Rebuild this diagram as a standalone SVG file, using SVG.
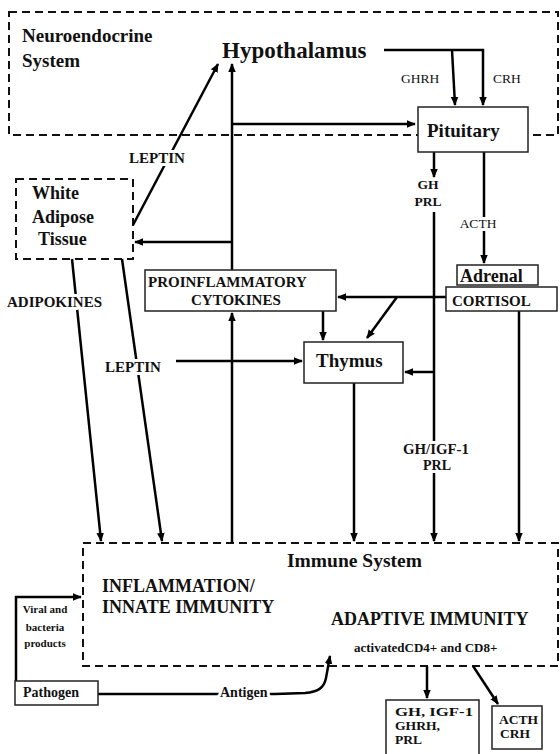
<svg xmlns="http://www.w3.org/2000/svg" width="560" height="754" viewBox="0 0 560 754">
<style>
text{font-family:"Liberation Serif","Times New Roman",serif;fill:#111;font-weight:bold}
.reg{font-weight:normal}
.dash{fill:none;stroke:#111;stroke-width:2;stroke-dasharray:8 5}
.box{fill:#fff;stroke:#222;stroke-width:1.5}
.c{fill:none;stroke:#000;stroke-width:2.5}
.a{marker-end:url(#ah)}
.halo{stroke:#fff;stroke-width:6;paint-order:stroke;stroke-linejoin:round}
.m{text-anchor:middle}
</style>
<defs>
<marker id="ah" viewBox="0 0 10 10" refX="9" refY="5" markerWidth="9" markerHeight="9" markerUnits="userSpaceOnUse" orient="auto">
<path d="M0,0.8 L10,5 L0,9.2 z" fill="#000"/>
</marker>
</defs>

<g id="neuroendocrine-system">
<rect class="dash" x="9" y="12" width="549" height="123"/>
<text x="22" y="42" font-size="19">Neuroendocrine</text>
<text x="22" y="67" font-size="19">System</text>
</g>

<g id="immune-system">
<rect class="dash" x="83" y="543" width="475" height="123"/>
<text x="287" y="567" font-size="19.5">Immune System</text>
<text x="102" y="592" font-size="18">INFLAMMATION/</text>
<text x="102" y="613" font-size="18">INNATE IMMUNITY</text>
<text x="331" y="625" font-size="18">ADAPTIVE IMMUNITY</text>
<text x="354" y="652" font-size="13">activatedCD4+ and CD8+</text>
</g>

<g id="white-adipose-tissue">
<rect class="dash" x="16" y="179" width="117" height="80"/>
<text x="32" y="199" font-size="18">White</text>
<text x="32" y="223" font-size="18">Adipose</text>
<text x="38" y="245" font-size="18">Tissue</text>
</g>

<g id="connectors">
<path class="c" d="M384,50 H483 V105" marker-end="url(#ah)"/>
<path class="c a" d="M452,50 L455,105"/>
<path class="c a" d="M232,124 H415"/>
<path class="c a" d="M232,270 V64"/>
<path class="c a" d="M232,242 H135"/>
<path class="c a" d="M133,225 L218,64"/>
<path class="c a" d="M72,259 L101,541"/>
<path class="c a" d="M122,259 L162,541"/>
<path class="c a" d="M232,543 V313"/>
<path class="c a" d="M176,361 H302"/>
<path class="c a" d="M323,311 V340"/>
<path class="c a" d="M446,297 H338"/>
<path class="c a" d="M397,297 L367,338"/>
<path class="c a" d="M434,152 V177"/>
<path class="c a" d="M434,212 V541"/>
<path class="c a" d="M434,372 H405"/>
<path class="c a" d="M484,152 V263"/>
<path class="c a" d="M519,311 V541"/>
<path class="c a" d="M354,383 V541"/>
<path class="c a" d="M16,681 V597 H81"/>
<path class="c" d="M98,694 H275 L305,693 C318,692 324,688 326,678 L330,656" marker-end="url(#ah)"/>
<path class="c a" d="M427,666 V698"/>
<path class="c a" d="M473,666 L498,704"/>

<text class="reg" x="401" y="83" font-size="13.5">GHRH</text>
<text class="reg" x="493" y="83" font-size="13.5">CRH</text>
<text class="halo m" x="157" y="163" font-size="15">LEPTIN</text>
<text class="halo" x="7" y="307" font-size="15">ADIPOKINES</text>
<text class="halo m" x="133" y="372" font-size="15">LEPTIN</text>
<text class="m" x="428" y="189" font-size="13.5">GH</text>
<text class="m" x="428" y="206" font-size="13.5">PRL</text>
<text class="halo reg m" x="478" y="228" font-size="13.5">ACTH</text>
<text class="halo m" x="436" y="454" font-size="14" textLength="66" lengthAdjust="spacingAndGlyphs">GH/IGF-1</text>
<text class="halo m" x="437" y="470" font-size="14">PRL</text>
<text class="halo" x="220" y="697" font-size="14">Antigen</text>
<text x="45" y="613" font-size="11" class="m">Viral and</text>
<text x="45" y="631" font-size="11" class="m">bacteria</text>
<text x="45" y="647" font-size="11" class="m">products</text>
</g>

<g id="hypothalamus">
<text x="222" y="58" font-size="23">Hypothalamus</text>
</g>

<g id="pituitary">
<rect class="box" x="418" y="107" width="110" height="45"/>
<text x="427" y="137" font-size="19">Pituitary</text>
</g>

<g id="proinflammatory-cytokines">
<rect class="box" x="145" y="270" width="191" height="41"/>
<text x="148" y="287" font-size="15">PROINFLAMMATORY</text>
<text x="191" y="305" font-size="15">CYTOKINES</text>
</g>

<g id="adrenal">
<rect class="box" x="457" y="265" width="81" height="20"/>
<text x="460" y="282" font-size="18">Adrenal</text>
</g>

<g id="cortisol">
<rect class="box" x="446" y="287" width="111" height="24"/>
<text x="452" y="306" font-size="15">CORTISOL</text>
</g>

<g id="thymus">
<rect class="box" x="304" y="342" width="99" height="41"/>
<text x="316" y="367" font-size="19">Thymus</text>
</g>

<g id="pathogen">
<rect class="box" x="15" y="681" width="83" height="24"/>
<text x="23" y="697" font-size="14">Pathogen</text>
</g>

<g id="gh-igf1-box">
<rect class="box" x="386" y="700" width="93" height="60"/>
<text x="395" y="716" font-size="13.5" textLength="78" lengthAdjust="spacingAndGlyphs">GH, IGF-1</text>
<text x="395" y="730" font-size="13.5" textLength="45" lengthAdjust="spacingAndGlyphs">GHRH,</text>
<text x="395" y="744" font-size="13.5">PRL</text>
</g>

<g id="acth-crh-box">
<rect class="box" x="492" y="706" width="50" height="43"/>
<text x="499" y="724" font-size="13.5">ACTH</text>
<text x="500" y="738" font-size="13.5">CRH</text>
</g>
</svg>
